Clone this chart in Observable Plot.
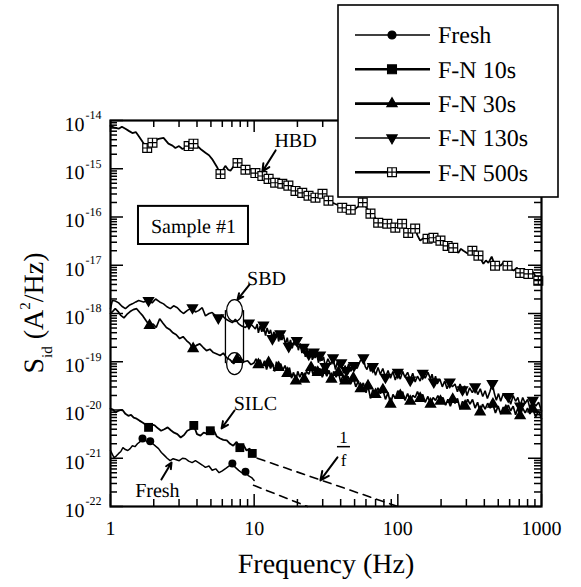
<!DOCTYPE html>
<html><head><meta charset="utf-8">
<script src="https://cdn.jsdelivr.net/npm/d3@7"></script>
<script src="https://cdn.jsdelivr.net/npm/@observablehq/plot@0.6"></script>
<style>html,body{margin:0;padding:0;background:#fff;} #chart{width:581px;height:587px;}
svg text{font-family:"Liberation Serif","Times New Roman",Times,"DejaVu Serif",serif !important;text-rendering:geometricPrecision;}</style>
</head><body><div id="chart"></div>
<script>
// ---- data: [frequency (Hz), log10 Sid (A^2/Hz)] ----
const hbd500 = [[1,-14.11],[1.07,-14.15],[1.14,-14.17],[1.2,-14.13],[1.27,-14.17],[1.35,-14.22],[1.42,-14.26],[1.5,-14.24],[1.57,-14.32],[1.68,-14.45],[1.8,-14.57],[1.96,-14.46],[2.16,-14.38],[2.34,-14.36],[2.53,-14.48],[2.7,-14.52],[2.83,-14.57],[3.0,-14.53],[3.17,-14.59],[3.5,-14.53],[3.78,-14.48],[4.0,-14.52],[4.23,-14.59],[4.58,-14.67],[4.85,-14.72],[5.1,-14.80],[5.3,-14.88],[5.55,-14.98],[5.83,-15.11],[6.3,-14.94],[6.6,-15.02],[6.84,-15.04],[7.2,-14.95],[7.66,-14.88],[8.0,-14.95],[8.3,-14.98],[8.7,-15.02],[9.1,-15.04],[9.6,-15.00],[10.2,-15.09],[10.8,-15.05],[11.4,-15.15],[12.0,-15.12],[12.6,-15.21],[13.3,-15.17],[14.0,-15.29],[14.8,-15.24],[15.7,-15.31],[16.5,-15.28],[17.3,-15.35],[18.3,-15.40],[19.4,-15.46],[20.5,-15.38],[21.6,-15.50],[22.7,-15.48],[23.9,-15.56],[25.3,-15.52],[26.7,-15.60],[28.3,-15.55],[29.9,-15.52],[31.4,-15.62],[32.9,-15.66],[34.8,-15.70],[36.8,-15.73],[39,-15.76],[41,-15.81],[44,-15.91],[47,-15.85],[49,-15.87],[53,-15.78],[57,-15.70],[61,-15.82],[64.5,-15.93],[69,-16.00],[73,-16.12],[79,-16.08],[84.5,-16.14],[90,-16.18],[96,-16.22],[101,-16.17],[107,-16.14],[112,-16.26],[118,-16.33],[125,-16.28],[132,-16.24],[137,-16.38],[143,-16.49],[152,-16.43],[161,-16.45],[169,-16.40],[177,-16.43],[187,-16.47],[198,-16.49],[210,-16.55],[222,-16.60],[232,-16.52],[243,-16.64],[254,-16.70],[264,-16.74],[275,-16.66],[286,-16.70],[308,-16.76],[330,-16.70],[347,-16.74],[364,-16.80],[380,-16.88],[394,-16.97],[410,-16.90],[427,-16.95],[450,-16.82],[475,-17.01],[497,-16.96],[520,-17.01],[550,-16.92],[580,-17.01],[610,-17.08],[640,-17.11],[675,-17.05],[710,-17.16],[760,-17.12],[810,-17.18],[845,-17.10],[880,-17.16],[915,-17.25],[950,-17.32],[1000,-17.25]];
const sbd130 = [[1,-17.90],[1.03,-17.73],[1.08,-17.74],[1.14,-17.78],[1.2,-17.85],[1.27,-17.90],[1.35,-17.83],[1.42,-17.80],[1.5,-17.76],[1.57,-17.73],[1.7,-17.76],[1.84,-17.73],[1.95,-17.78],[2.06,-17.70],[2.2,-17.76],[2.34,-17.80],[2.47,-17.86],[2.61,-17.90],[2.75,-17.84],[2.92,-17.88],[3.07,-17.95],[3.22,-18.00],[3.45,-17.93],[3.72,-17.88],[3.9,-17.97],[4.1,-17.94],[4.35,-17.88],[4.58,-18.05],[4.85,-18.00],[5.1,-17.98],[5.35,-18.04],[5.63,-18.09],[5.95,-18.03],[6.3,-18.11],[6.65,-18.15],[7.05,-18.19],[7.4,-18.12],[7.77,-18.21],[8.2,-18.26],[8.7,-18.29],[9.2,-18.20],[9.7,-18.25],
  [10.2,-18.32],[10.5,-18.22],[10.7,-18.40],[11.0,-18.26],[11.3,-18.38],[11.6,-18.24],[12.0,-18.46],[12.3,-18.30],[12.7,-18.42],[13.0,-18.34],[13.4,-18.52],[13.7,-18.38],[14.1,-18.48],[14.4,-18.36],[14.8,-18.58],[15.2,-18.42],[15.6,-18.55],[16.0,-18.45],[16.5,-18.64],[17.0,-18.50],[17.4,-18.68],[17.9,-18.55],[18.4,-18.72],[18.9,-18.58],[19.3,-18.66],[19.8,-18.56],[20.3,-18.76],[20.9,-18.62],[21.5,-18.82],[22.1,-18.70],[22.7,-18.90],[23.3,-18.72],[24,-18.84],[24.7,-18.74],[25.4,-18.96],[26.0,-18.80],[26.6,-18.92],[27.3,-18.84],[28.0,-19.02],[28.8,-18.86],[29.6,-18.98],[30.4,-18.90],[31.3,-19.10],[32.6,-18.94],[34,-19.06],[35.4,-18.92],[36.8,-19.16],[37.9,-19.00],[39,-19.12],[40.4,-19.02],[41.8,-19.24],[42.9,-19.08],[44,-19.18],[45.5,-19.04],[47,-19.20],[49.5,-19.08],[52,-19.14],[54.8,-18.98],[57.6,-18.92],[59.3,-19.10],[61,-19.16],[62.8,-19.04],[64.5,-19.20],[67,-19.10],[70,-19.28],[72.8,-19.12],[75.5,-19.26],[78.6,-19.14],[82,-19.32],[85.5,-19.18],[88.9,-19.34],[92.4,-19.20],[96,-19.38],[100,-19.22],[104,-19.36],[108,-19.20],[112,-19.32],[117,-19.22],[122,-19.38],[127,-19.24],[132,-19.42],[137,-19.30],[143,-19.40],[149,-19.24],[155,-19.34],[162,-19.22],[169,-19.36],[173,-19.26],[178,-19.42],[183,-19.30],[188,-19.46],[196,-19.36],[204,-19.52],[212,-19.40],[220,-19.56],[230,-19.42],[240,-19.52],[250,-19.46],[260,-19.62],[271,-19.46],[282,-19.58],[292,-19.50],[303,-19.70],[316,-19.54],[330,-19.64],[345,-19.52],[360,-19.68],[375,-19.56],[390,-19.72],[405,-19.60],[420,-19.76],[437,-19.62],[455,-19.45],[470,-19.66],[485,-19.80],[502,-19.66],[520,-19.82],[542,-19.66],[565,-19.76],[587,-19.72],[610,-19.88],[635,-19.70],[660,-19.82],[685,-19.74],[710,-19.92],[740,-19.74],[770,-19.86],[800,-19.78],[830,-19.96],[870,-19.80],[910,-19.92],[955,-19.84],[1000,-20.02]];
const sbd30 = [[1,-18.00],[1.04,-17.95],[1.08,-17.90],[1.13,-17.96],[1.18,-18.04],[1.24,-18.09],[1.3,-18.02],[1.37,-17.96],[1.44,-17.92],[1.52,-17.90],[1.6,-17.98],[1.68,-18.05],[1.77,-18.15],[1.87,-18.25],[1.98,-18.22],[2.08,-18.29],[2.2,-18.11],[2.32,-18.20],[2.45,-18.29],[2.58,-18.33],[2.72,-18.40],[2.87,-18.44],[3.03,-18.52],[3.2,-18.48],[3.38,-18.56],[3.56,-18.62],[3.76,-18.73],[3.96,-18.66],[4.18,-18.63],[4.41,-18.70],[4.66,-18.77],[4.92,-18.74],[5.2,-18.81],[5.5,-18.84],[5.8,-18.87],[6.1,-18.82],[6.45,-18.92],[6.8,-18.96],[7.2,-19.04],[7.6,-18.95],[8.0,-18.92],[8.5,-19.00],[9.0,-18.98],[9.5,-19.06],
  [10.0,-19.02],[10.3,-18.94],[10.7,-19.06],[11.0,-18.96],[11.4,-19.10],[11.8,-18.98],[12.2,-19.16],[12.6,-19.02],[13.0,-19.14],[13.4,-19.04],[13.9,-19.20],[14.3,-19.00],[14.8,-19.12],[15.3,-19.04],[15.8,-19.18],[16.4,-19.08],[17,-19.24],[17.6,-19.12],[18.2,-19.34],[18.8,-19.22],[19.5,-19.40],[20.1,-19.20],[20.8,-19.32],[21.5,-19.22],[22.3,-19.36],[23.1,-19.20],[24,-19.26],[24.9,-19.12],[25.8,-19.28],[26.7,-19.10],[27.7,-19.22],[28.7,-19.14],[29.8,-19.32],[30.9,-19.18],[32,-19.30],[33.2,-19.18],[34.5,-19.36],[35.8,-19.20],[37.2,-19.32],[38.6,-19.22],[40,-19.42],[41.5,-19.28],[43,-19.40],[45,-19.30],[47,-19.46],[49,-19.34],[51,-19.52],[53,-19.40],[55,-19.56],[57.5,-19.44],[60,-19.64],[62,-19.50],[64.5,-19.76],[67,-19.58],[70,-19.68],[72.7,-19.54],[75.5,-19.66],[78.7,-19.58],[82,-19.78],[85.5,-19.64],[89,-19.88],[92.5,-19.68],[96,-19.76],[100,-19.60],[104,-19.70],[108,-19.62],[112,-19.80],[117,-19.66],[122,-19.82],[127,-19.70],[132,-19.74],[137,-19.62],[143,-19.76],[149,-19.68],[155,-19.84],[162,-19.72],[169,-19.88],[176,-19.74],[183,-19.80],[190,-19.70],[198,-19.82],[206,-19.74],[215,-19.90],[223,-19.78],[232,-19.92],[241,-19.78],[250,-19.86],[260,-19.76],[271,-19.98],[282,-19.82],[294,-19.92],[306,-19.78],[318,-19.88],[331,-19.78],[345,-19.96],[359,-19.84],[374,-20.04],[389,-19.88],[405,-19.98],[422,-19.86],[440,-19.96],[459,-19.88],[478,-20.06],[499,-19.92],[520,-20.08],[542,-19.94],[565,-20.02],[587,-19.90],[610,-20.02],[635,-19.92],[660,-20.10],[685,-19.96],[710,-20.12],[740,-19.96],[770,-20.06],[800,-19.96],[830,-20.08],[870,-19.98],[910,-20.14],[955,-20.02],[1000,-20.18]];
const silc10 = [[1,-19.97],[1.04,-19.99],[1.08,-20.05],[1.13,-20.02],[1.18,-20.00],[1.22,-20.01],[1.27,-20.08],[1.33,-20.12],[1.39,-20.10],[1.45,-20.16],[1.52,-20.18],[1.59,-20.22],[1.67,-20.26],[1.75,-20.30],[1.84,-20.36],[1.93,-20.30],[2.03,-20.32],[2.14,-20.38],[2.25,-20.43],[2.37,-20.40],[2.5,-20.36],[2.63,-20.42],[2.77,-20.47],[2.92,-20.50],[3.08,-20.57],[3.25,-20.52],[3.42,-20.43],[3.6,-20.40],[3.8,-20.32],[4.0,-20.50],[4.23,-20.53],[4.45,-20.47],[4.7,-20.49],[4.95,-20.43],[5.2,-20.40],[5.5,-20.55],[5.8,-20.59],[6.1,-20.62],[6.45,-20.63],[6.8,-20.70],[7.15,-20.74],[7.55,-20.66],[7.95,-20.78],[8.4,-20.72],[8.85,-20.84],[9.3,-20.80],[9.7,-20.90],[10,-20.94]];
const fresh = [[1,-20.84],[1.03,-20.92],[1.06,-20.99],[1.1,-20.95],[1.14,-20.90],[1.18,-20.86],[1.22,-20.78],[1.27,-20.82],[1.32,-20.84],[1.37,-20.80],[1.42,-20.74],[1.48,-20.76],[1.54,-20.70],[1.6,-20.66],[1.67,-20.59],[1.74,-20.62],[1.81,-20.67],[1.89,-20.65],[1.97,-20.70],[2.06,-20.75],[2.16,-20.80],[2.26,-20.88],[2.37,-20.94],[2.48,-21.00],[2.6,-21.05],[2.73,-21.01],[2.87,-21.03],[3.01,-21.05],[3.17,-21.00],[3.33,-21.01],[3.5,-21.06],[3.7,-21.09],[3.9,-21.05],[4.1,-21.09],[4.35,-21.14],[4.58,-21.19],[4.85,-21.16],[5.1,-21.25],[5.4,-21.22],[5.7,-21.30],[6.0,-21.26],[6.35,-21.21],[6.7,-21.16],[7.05,-21.11],[7.4,-21.19],[7.8,-21.25],[8.2,-21.30],[8.7,-21.28],[9.1,-21.36],[9.6,-21.40],[10,-21.46]];

// marker frequencies per series
const hbdMarks = [1.8,1.96,3.5,3.78,5.83,7.66,8.7,10.2,11.4,12.6,14.0,15.7,17.3,19.4,21.6,23.9,26.7,29.9,32.9,41,47,57,64.5,73,84.5,96,107,118,132,161,177,198,222,243,330,364,475,580,710,810,950];
const sbd130Marks = [1.84,3.72,5.63,9.2,11.6,13.4,15.2,17.4,19.8,22.1,24,26,28.8,31.3,35.4,40.4,44,49.5,57.6,67,82,100,122,149,178,230,282,345,455,587,710,870];
const sbd30Marks = [1.87,3.76,7.6,10.7,12.6,14.8,17,19.5,22.3,24.9,27.7,30.9,34.5,38.6,43,49,55,62,70,78.7,89,104,122,143,169,198,241,294,374,459,565,710,870];
const silcMarks = [1.84,3.8,4.95,7.95,9.7];
const freshMarks = [1.67,1.89,7.05,8.7];

// 1/f reference lines [f, log10 S]
const oneOverFUpper = [[10.5,-21.0],[100,-22.0]];
const oneOverFLower = [[9.9,-21.56],[23.5,-22.0]];

// axis ticks
const xMajor = [1,10,100,1000];
const xMinor = [2,3,4,5,6,7,8,9,20,30,40,50,60,70,80,90,200,300,400,500,600,700,800,900];
const yExponents = [-22,-21,-20,-19,-18,-17,-16,-15,-14];
const yMinorMult = [2,3,4,5,6,7,8,9];

// legend
const legendNames = ["Fresh","F-N 10s","F-N 30s","F-N 130s","F-N 500s"];
const legendWidths = [1.3,2.6,2.6,1.5,2.6];

// annotations [label, f, log10 S]
const labels = [["HBD",19.4,-14.41],["SBD",12.2,-17.27],["SILC",10.2,-19.87],["Fresh",2.12,-21.67],["Sample #1",3.78,-16.20]];
const arrows = [[14.1,-14.62,11.4,-15.06],[9.28,-17.40,7.66,-17.71],[7.3,-20.01,5.93,-20.38],[38.0,-20.98,28.9,-21.46],[2.26,-21.44,2.66,-21.09]];
const sampleBox = [[1.566,9.13,-15.78,-16.57]];
const sbdEllipses = [[7.3,-17.94],[7.3,-19.04]];
const sbdBracket = [[6.31,-17.94,-19.04],[8.43,-17.94,-19.04]];
const fracParts = [["1",41.9,-20.57],["f",41.9,-21.05]];
const fracBar = [[38.0,46.8,-20.76]];

// ---- build ----
const P = (arr) => arr.map(([f, l]) => ({f, S: Math.pow(10, l)}));
const nearest = (data, fs) => fs.map(f => data.reduce((a, b) => Math.abs(Math.log(b.f / f)) < Math.abs(Math.log(a.f / f)) ? b : a));

const D = {hbd: P(hbd500), s130: P(sbd130), s30: P(sbd30), silc: P(silc10), fresh: P(fresh)};

// custom symbols
const sqPlus = {draw(c, size) { const s = Math.sqrt(size) / 2; c.moveTo(-s,-s); c.lineTo(s,-s); c.lineTo(s,s); c.lineTo(-s,s); c.closePath(); c.moveTo(0,-s); c.lineTo(0,s); c.moveTo(-s,0); c.lineTo(s,0);} };
const triDown = {draw(c, size) { const s = Math.sqrt(size * 4 / Math.sqrt(3)); const h = s * Math.sqrt(3) / 2; c.moveTo(-s/2, -h/3); c.lineTo(s/2, -h/3); c.lineTo(0, 2*h/3); c.closePath(); } };
const triUp = {draw(c, size) { const s = Math.sqrt(size * 4 / Math.sqrt(3)); const h = s * Math.sqrt(3) / 2; c.moveTo(-s/2, h/3); c.lineTo(s/2, h/3); c.lineTo(0, -2*h/3); c.closePath(); } };
const ellipse = {draw(c, size) { const ry = Math.sqrt(size / Math.PI), rx = ry * 0.72, k = 0.5523;
  c.moveTo(rx, 0); c.bezierCurveTo(rx, k*ry, k*rx, ry, 0, ry); c.bezierCurveTo(-k*rx, ry, -rx, k*ry, -rx, 0);
  c.bezierCurveTo(-rx, -k*ry, -k*rx, -ry, 0, -ry); c.bezierCurveTo(k*rx, -ry, rx, -k*ry, rx, 0); c.closePath(); } };

const W = 581, H = 587, ML = 110, MR = 40, MT = 120, MB = 81;
const FW = W - ML - MR, FH = H - MT - MB;
const yMinor = yExponents.slice(0, -1).flatMap(e => yMinorMult.map(m => m * Math.pow(10, e)));
const yMajor = yExponents.map(e => Math.pow(10, e));
const serif = "Liberation Serif, Times New Roman, Times, DejaVu Serif, serif";

const lineOpts = (w) => ({x: "f", y: "S", stroke: "black", strokeWidth: w, strokeLinejoin: "miter"});

const chart = Plot.plot({
  width: W, height: H, marginLeft: ML, marginRight: MR, marginTop: MT, marginBottom: MB,
  style: {fontFamily: serif, background: "white", color: "black"},
  x: {type: "log", domain: [1, 1000], axis: null},
  y: {type: "log", domain: [1e-22, 1e-14], axis: null},
  marks: [
    Plot.line(D.hbd, lineOpts(1.8)),
    Plot.line(D.s130, lineOpts(1.6)),
    Plot.line(D.s30, lineOpts(1.7)),
    Plot.line(D.silc, lineOpts(1.8)),
    Plot.line(D.fresh, lineOpts(1.5)),
    Plot.dot(nearest(D.hbd, hbdMarks), {x: "f", y: "S", symbol: sqPlus, r: 5, fill: "white", stroke: "black", strokeWidth: 1.2}),
    Plot.dot(nearest(D.s130, sbd130Marks), {x: "f", y: "S", symbol: triDown, r: 3.6, fill: "black", stroke: "black"}),
    Plot.dot(nearest(D.s30, sbd30Marks), {x: "f", y: "S", symbol: triUp, r: 3.6, fill: "black", stroke: "black"}),
    Plot.dot(nearest(D.silc, silcMarks), {x: "f", y: "S", symbol: "square", r: 5, fill: "black"}),
    Plot.dot(nearest(D.fresh, freshMarks), {x: "f", y: "S", symbol: "circle", r: 4, fill: "black"}),
    Plot.line(P(oneOverFUpper), {x: "f", y: "S", stroke: "black", strokeWidth: 1.6, strokeDasharray: "8,6"}),
    Plot.line(P(oneOverFLower), {x: "f", y: "S", stroke: "black", strokeWidth: 1.6, strokeDasharray: "8,6"}),
    // annotations
    Plot.text(labels, {x: d => d[1], y: d => Math.pow(10, d[2]), text: d => d[0], fontSize: 20, fill: "black", textAnchor: "middle"}),
    Plot.rect(sampleBox, {x1: d => d[0], x2: d => d[1], y1: d => Math.pow(10, d[2]), y2: d => Math.pow(10, d[3]), fill: "none", stroke: "black", strokeWidth: 2}),
    Plot.arrow(arrows, {x1: d => d[0], y1: d => Math.pow(10, d[1]), x2: d => d[2], y2: d => Math.pow(10, d[3]), stroke: "black", strokeWidth: 2, headLength: 9, headAngle: 50}),
    Plot.dot(sbdEllipses, {x: d => d[0], y: d => Math.pow(10, d[1]), symbol: ellipse, r: 11, fill: "none", stroke: "black", strokeWidth: 1.3}),
    Plot.ruleX(sbdBracket, {x: d => d[0], y1: d => Math.pow(10, d[1]), y2: d => Math.pow(10, d[2]), stroke: "black", strokeWidth: 1.3}),
    Plot.text(fracParts, {x: d => d[1], y: d => Math.pow(10, d[2]), text: d => d[0], fontSize: 17, fill: "black"}),
    Plot.ruleY(fracBar, {y: d => Math.pow(10, d[2]), x1: d => d[0], x2: d => d[1], stroke: "black", strokeWidth: 1.5}),
    // ticks (inward, all four sides)
    Plot.tickX(xMajor, {x: d => d, insetTop: FH - 12, strokeWidth: 1.5}),
    Plot.tickX(xMinor, {x: d => d, insetTop: FH - 7, strokeWidth: 1.5}),
    Plot.tickX(xMajor, {x: d => d, insetBottom: FH - 12, strokeWidth: 1.5}),
    Plot.tickX(xMinor, {x: d => d, insetBottom: FH - 7, strokeWidth: 1.5}),
    Plot.tickY(yMajor, {y: d => d, insetRight: FW - 13, strokeWidth: 1.5}),
    Plot.tickY(yMinor, {y: d => d, insetRight: FW - 7, strokeWidth: 1.5}),
    Plot.tickY(yMajor, {y: d => d, insetLeft: FW - 13, strokeWidth: 1.5}),
    Plot.tickY(yMinor, {y: d => d, insetLeft: FW - 7, strokeWidth: 1.5}),
    Plot.frame({stroke: "black", strokeWidth: 2.2}),
    // tick labels
    Plot.text(xMajor, {x: d => d, frameAnchor: "bottom", dy: 28, text: d => String(d), fontSize: 20, fill: "black"}),
    Plot.text(yExponents, {y: d => Math.pow(10, d), frameAnchor: "left", dx: -26, dy: 4, text: () => "10", textAnchor: "end", fontSize: 20, fill: "black"}),
    Plot.text(yExponents, {y: d => Math.pow(10, d), frameAnchor: "left", dx: -25, dy: -5, text: d => String(d), textAnchor: "start", fontSize: 12, fill: "black"}),
    // x title
    Plot.text(["Frequency (Hz)"], {frameAnchor: "bottom", dy: 66, text: d => d, fontSize: 28, fill: "black"})
  ]
});

document.getElementById("chart").appendChild(chart);

// y-axis title with sub/superscripts
const svg = d3.select(chart);
const yt = svg.append("text").attr("transform", `translate(43,${MT + FH / 2}) rotate(-90)`)
  .attr("text-anchor", "middle").attr("font-size", 28).attr("fill", "black");
yt.append("tspan").text("S");
yt.append("tspan").attr("font-size", 15).attr("dy", 9).text("id");
yt.append("tspan").attr("dy", -9).text("\u00a0(A");
yt.append("tspan").attr("font-size", 15).attr("dy", -13).text("2");
yt.append("tspan").attr("dy", 13).text("/Hz)");

// legend box
const legendSymbols = [d3.symbolCircle, d3.symbolSquare, triUp, triDown, sqPlus];
const legendSizes = [Math.PI * 4 * 4, Math.PI * 5 * 5, Math.PI * 3.8 * 3.8, Math.PI * 3.8 * 3.8, Math.PI * 5 * 5];
const lg = svg.append("g");
lg.append("rect").attr("x", 338).attr("y", 5).attr("width", 220).attr("height", 192)
  .attr("fill", "white").attr("stroke", "black").attr("stroke-width", 1.6);
legendNames.forEach((name, i) => {
  const yy = 35 + i * 34.3;
  lg.append("line").attr("x1", 355).attr("x2", 430).attr("y1", yy).attr("y2", yy)
    .attr("stroke", "black").attr("stroke-width", legendWidths[i]);
  lg.append("path").attr("transform", `translate(392,${yy})`)
    .attr("d", d3.symbol().type(legendSymbols[i]).size(legendSizes[i])())
    .attr("fill", i === 4 ? "white" : "black").attr("stroke", "black").attr("stroke-width", 1.2);
  lg.append("text").attr("x", 438).attr("y", yy).attr("dy", "0.35em").attr("text-anchor", "start")
    .attr("font-size", 24).attr("fill", "black").text(name);
});
</script>
</body></html>
